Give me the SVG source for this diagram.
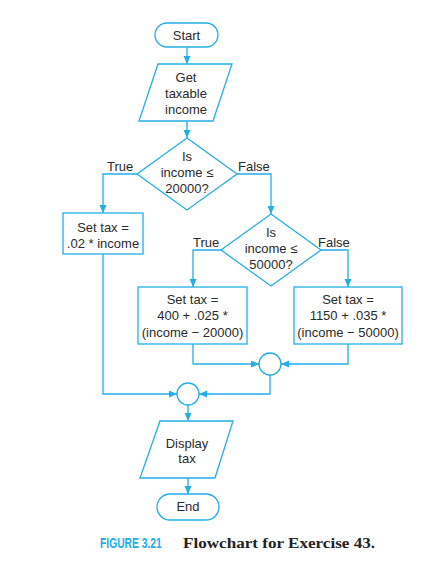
<svg xmlns="http://www.w3.org/2000/svg" width="434" height="563" viewBox="0 0 434 563">
<style>
.s{fill:#fff;stroke:#22aee6;stroke-width:1.3}
.c{fill:none;stroke:#22aee6;stroke-width:1.3}
.t{font-family:"Liberation Sans",Arial,sans-serif;font-size:13px;fill:#2a2a2a;text-anchor:middle}
.l{font-family:"Liberation Sans",Arial,sans-serif;font-size:13px;fill:#2a2a2a}
</style>
<defs>
<marker id="a" markerUnits="userSpaceOnUse" markerWidth="9" markerHeight="8" refX="8" refY="3.5" orient="auto">
<path d="M0,0 L8,3.5 L0,7 z" fill="#22aee6"/>
</marker>
</defs>
<rect width="434" height="563" fill="#fff"/>
<g id="connectors" class="c" marker-end="url(#a)">
<path d="M187,47 V64"/>
<path d="M187,121 V138"/>
<path d="M137,174 H103 V213"/>
<path d="M237,174 H271 V214"/>
<path d="M221,250 H193 V287"/>
<path d="M321,250 H348 V287"/>
<path d="M193,344 V364 H259"/>
<path d="M348,344 V364 H281"/>
<path d="M103,254 V394 H177"/>
<path d="M270,375 V394 H199"/>
<path d="M188,405 V421"/>
<path d="M188,478 V494"/>
</g>
<g id="start">
<rect class="s" x="155" y="23" width="63" height="24" rx="12"/>
<text class="t" x="186.5" y="39.5">Start</text>
</g>
<g id="get-income">
<polygon class="s" points="158,64 232,64 213,121 139,121"/>
<text class="t" x="186" y="81.5">Get</text>
<text class="t" x="186" y="97.5">taxable</text>
<text class="t" x="186" y="113.5">income</text>
</g>
<g id="decision1">
<polygon class="s" points="187,138 237,174 187,210 137,174"/>
<text class="t" x="187" y="160.5">Is</text>
<text class="t" x="187" y="176.5">income ≤</text>
<text class="t" x="187" y="192.5">20000?</text>
<text class="l" x="107" y="170.5">True</text>
<text class="l" x="238" y="170.5">False</text>
</g>
<g id="tax1">
<rect class="s" x="63" y="213" width="80" height="41"/>
<text class="t" x="103" y="231.5">Set tax =</text>
<text class="t" x="103" y="247.5">.02 * income</text>
</g>
<g id="decision2">
<polygon class="s" points="271,214 321,250 271,286 221,250"/>
<text class="t" x="271" y="236.5">Is</text>
<text class="t" x="271" y="252.5">income ≤</text>
<text class="t" x="271" y="268.5">50000?</text>
<text class="l" x="193" y="246.5">True</text>
<text class="l" x="318" y="246.5">False</text>
</g>
<g id="tax2">
<rect class="s" x="138" y="287" width="109" height="57"/>
<text class="t" x="192.5" y="303.5">Set tax =</text>
<text class="t" x="192.5" y="319.5">400 + .025 *</text>
<text class="t" x="192.5" y="336.5">(income − 20000)</text>
</g>
<g id="tax3">
<rect class="s" x="294" y="287" width="108" height="57"/>
<text class="t" x="348" y="303.5">Set tax =</text>
<text class="t" x="348" y="319.5">1150 + .035 *</text>
<text class="t" x="348" y="336.5">(income − 50000)</text>
</g>
<g id="join2">
<circle class="s" cx="270" cy="364" r="11"/>
</g>
<g id="join1">
<circle class="s" cx="188" cy="394" r="11"/>
</g>
<g id="display-tax">
<polygon class="s" points="160,421 233,421 215,478 140,478"/>
<text class="t" x="187" y="447.5">Display</text>
<text class="t" x="187" y="463">tax</text>
</g>
<g id="end">
<rect class="s" x="157" y="494" width="62" height="26" rx="13"/>
<text class="t" x="188" y="511">End</text>
</g>
<g id="caption">
<text transform="translate(100,548) scale(1,1.45)" font-family="'Liberation Sans',Arial,sans-serif" font-weight="bold" font-size="10.3" fill="#22aee6">FIGURE 3.21</text>
<text x="183" y="548" font-family="'Liberation Serif','Times New Roman',serif" font-weight="bold" font-size="15" fill="#222" textLength="192" lengthAdjust="spacingAndGlyphs">Flowchart for Exercise 43.</text>
</g>
</svg>
